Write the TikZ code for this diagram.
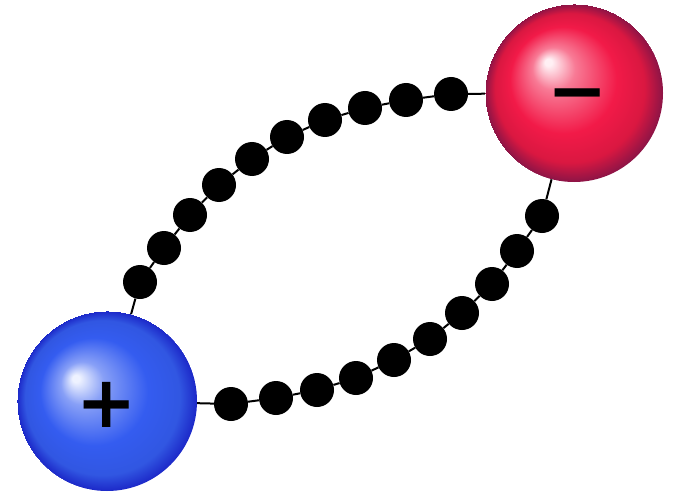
\documentclass[tikz,border=0pt]{standalone}
\usepackage{fontspec}
\newfontfamily\signfont{DejaVu Sans}
\definecolor{bhl}{RGB}{238,242,255}
\definecolor{bmain}{RGB}{52,92,240}
\definecolor{bedge}{RGB}{28,40,200}
\definecolor{rhl}{RGB}{255,240,244}
\definecolor{rmain}{RGB}{242,26,72}
\definecolor{redge}{RGB}{140,20,70}
\pgfdeclareradialshading{blueball}{\pgfqpoint{-9bp}{6.5bp}}{color(0bp)=(bhl); color(1bp)=(bhl); color(6bp)=(bhl!45!bmain); color(15bp)=(bmain); color(21.5bp)=(bmain!94!black); color(25bp)=(bedge)}
\pgfdeclareradialshading{redball}{\pgfqpoint{-7.5bp}{9bp}}{color(0bp)=(rhl); color(1bp)=(rhl); color(6bp)=(rhl!45!rmain); color(15bp)=(rmain); color(21bp)=(rmain!90!black); color(25bp)=(redge)}
\tikzset{
  bead/.style={circle, fill=black, minimum size=34pt, inner sep=0pt},
  ion/.style={circle, inner sep=0pt, shade},
  wire/.style={line width=2pt, black},
  sign/.style={font=\signfont\bfseries\fontsize{72}{72}\selectfont, inner sep=0pt}
}
\begin{document}
\begin{tikzpicture}[x=1pt, y=-1pt]
\useasboundingbox (0,0) rectangle (695,497);
\fill[white] (0,0) rectangle (695,497);
\node[ion, shading=blueball, minimum size=180pt] (B) at (107,401) {};
\node[ion, shading=redball, minimum size=178pt] (R) at (574,93) {};
\node[sign] (plus) at (107,405) {+};
\node[sign] (minus) at (578,102) {−};
% upper chain
\node[bead] (u1) at (140,282) {};
\node[bead] (u2) at (164,248) {};
\node[bead] (u3) at (190,215) {};
\node[bead] (u4) at (219,185) {};
\node[bead] (u5) at (252,159) {};
\node[bead] (u6) at (287,137) {};
\node[bead] (u7) at (325,120) {};
\node[bead] (u8) at (365,108) {};
\node[bead] (u9) at (406,100) {};
\node[bead] (u10) at (451,94) {};
% lower chain
\node[bead] (l1) at (231,404) {};
\node[bead] (l2) at (276,398) {};
\node[bead] (l3) at (317,390) {};
\node[bead] (l4) at (356,378) {};
\node[bead] (l5) at (394,360) {};
\node[bead] (l6) at (430,339) {};
\node[bead] (l7) at (462,313) {};
\node[bead] (l8) at (492,284) {};
\node[bead] (l9) at (517,251) {};
\node[bead] (l10) at (542,216) {};
\draw[wire] (B) -- (u1) -- (u2) -- (u3) -- (u4) -- (u5) -- (u6) -- (u7) -- (u8) -- (u9) -- (u10) -- (R);
\draw[wire] (B) -- (l1) -- (l2) -- (l3) -- (l4) -- (l5) -- (l6) -- (l7) -- (l8) -- (l9) -- (l10) -- (R);
\end{tikzpicture}
\end{document}
